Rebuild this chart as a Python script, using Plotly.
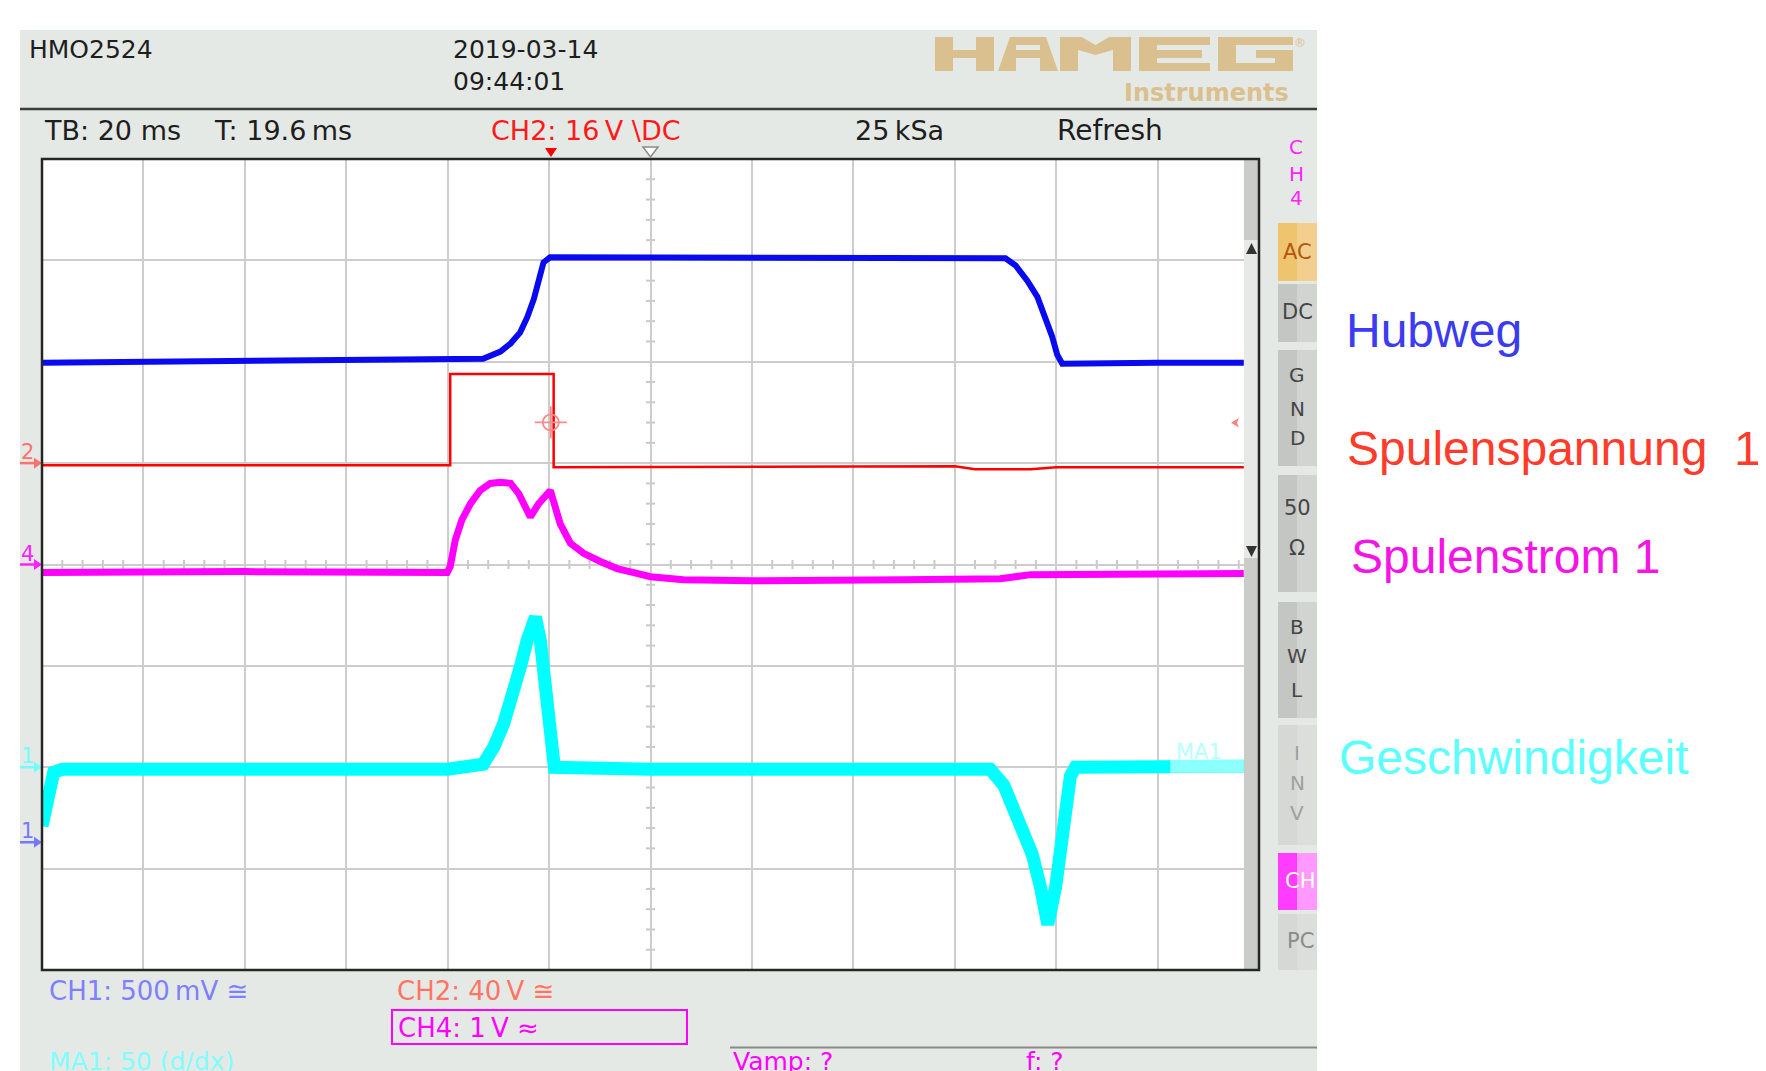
import plotly.graph_objects as go
import numpy as np

# ---------------- data (time in ms, amplitude in screen divisions) ----------------
hub_t = [-120, -60, -33.0, -29.6, -27.6, -25.7, -24.3, -23.0, -22.0, -21.1, -19.8, 0, 40,
         70.0, 72.0, 74.3, 76.3, 77.9, 79.2, 80.2, 81.2, 100, 117]
hub_v = [1.99, 2.01, 2.03, 2.10, 2.18, 2.29, 2.44, 2.62, 2.80, 2.98, 3.03, 3.03, 3.03,
         3.02, 2.95, 2.80, 2.64, 2.43, 2.25, 2.07, 1.98, 1.99, 1.99]

volt_t = [-120, -39.5, -39.5, -19.1, -19.1, 60, 64, 75, 80, 117]
volt_v = [0.98, 0.98, 1.88, 1.88, 0.96, 0.97, 0.94, 0.94, 0.96, 0.96]

mag_t = [-120, -80, -40.1, -39.5, -38.5, -37.2, -35.5, -33.6, -31.6, -29.6, -27.6, -26.0,
         -23.7, -22.05, -19.75, -19.1, -17.8, -15.8, -13.2, -9.9, -6.6, -3.3, 0, 6.5, 20,
         50, 69, 75, 117]
mag_v = [-0.08, -0.07, -0.08, -0.02, 0.24, 0.44, 0.60, 0.73, 0.80, 0.81, 0.80, 0.70,
         0.47, 0.60, 0.73, 0.63, 0.40, 0.21, 0.11, 0.03, -0.04, -0.08, -0.12, -0.15, -0.16,
         -0.15, -0.14, -0.10, -0.09]

speed_t = [-120, -117.7, -116, -40, -33.0, -30.9, -28.95, -26.98, -25.66, -24.34, -22.7,
           -21.72, -20.73, -19.75, -18.96, 0, 60, 67.0, 69.7, 71.6, 73.6, 75.3, 76.9,
           78.35, 79.9, 80.9, 81.8, 82.8, 83.8, 100, 117]
speed_v = [-2.58, -2.05, -2.02, -2.02, -1.97, -1.80, -1.57, -1.27, -1.01, -0.75, -0.52,
           -0.75, -1.24, -1.63, -2.0, -2.02, -2.02, -2.02, -2.18, -2.40, -2.59, -2.86, -3.18,
           -3.55, -3.18, -2.77, -2.31, -2.09, -2.0, -1.99, -1.99]
ma1_label_from = 102.5  # ms, where the MA1 label overlays the trace

# channel reference markers (divisions) and labels
ch_markers = [("2", 1.0, "#ff7070"), ("4", 0.0, "#ff20ff"), ("1", -2.0, "#70ffff"), ("1", -2.74, "#7878ff")]
trace_labels = [("Hubweg", "#3b3bf2"), ("Spulenspannung \u00a01", "#ff3b2b"),
                ("Spulenstrom 1", "#f514e6"), ("Geschwindigkeit", "#5cffff")]

# ---------------- geometry helpers (page pixel coords; page body has an 8px margin) ----------------
OFF = 8
W, H = 1766 - OFF, 1071 - OFF
PL, PR, PT, PB = 42, 1259, 159, 970     # grid area in page px
def px(x): return (x - OFF) / W
def py(y): return 1 - (y - OFF) / H
def div2py(v): return (PT + PB) / 2 - v * (PB - PT) / 8

FONT = "DejaVu Sans"
BG = "#e5e9e5"

fig = go.Figure()

fig.add_trace(go.Scatter(x=hub_t, y=hub_v, mode="lines", line=dict(color="#0a0af0", width=6), hoverinfo="skip"))
fig.add_trace(go.Scatter(x=volt_t, y=volt_v, mode="lines", line=dict(color="#ff0000", width=2.5), hoverinfo="skip"))
fig.add_trace(go.Scatter(x=mag_t, y=mag_v, mode="lines", line=dict(color="#ff00ff", width=7), hoverinfo="skip"))
st = np.array(speed_t); sv = np.array(speed_v)
main = st <= ma1_label_from
fig.add_trace(go.Scatter(x=st, y=sv, mode="lines", line=dict(color="#00ffff", width=13), hoverinfo="skip"))
tail_y = np.interp(ma1_label_from, st, sv)
fig.add_trace(go.Scatter(x=np.r_[ma1_label_from, st[~main]], y=np.r_[tail_y, sv[~main]], mode="lines",
                         line=dict(color="#8cffff", width=13), hoverinfo="skip"))

shapes = []
def rect(x0, y0, x1, y1, fill=None, line=None, lw=0, layer="below"):
    shapes.append(dict(type="rect", xref="paper", yref="paper", x0=px(x0), x1=px(x1), y0=py(y1), y1=py(y0),
                       fillcolor=fill if fill else "rgba(0,0,0,0)",
                       line=dict(color=line if line else "rgba(0,0,0,0)", width=lw), layer=layer))
def line(x0, y0, x1, y1, color, lw, layer="below"):
    shapes.append(dict(type="line", xref="paper", yref="paper", x0=px(x0), x1=px(x1), y0=py(y0), y1=py(y1),
                       line=dict(color=color, width=lw), layer=layer))
def poly(pts, fill, layer="below", lc=None, lw=0):
    d = "M " + " L ".join(f"{px(a):.5f},{py(b):.5f}" for a, b in pts) + " Z"
    shapes.append(dict(type="path", xref="paper", yref="paper", path=d, fillcolor=fill,
                       line=dict(color=lc if lc else "rgba(0,0,0,0)", width=lw), layer=layer))

# scope screen background, grid area
rect(20, 30, 1317, 1075, fill=BG)
rect(PL, PT, PR, PB, fill="white")
line(20, 109, 1317, 109, "#3c3c3c", 2.5)
line(730, 1047.5, 1317, 1047.5, "#8a8a8a", 2)
rect(392, 1010, 687, 1044, line="#ff00ff", lw=2)

# HAMEG logo (block letters)
TAN = "#dbc08f"
T0, T1 = 37, 71
rect(935, T0, 953, T1, fill=TAN); rect(976, T0, 994, T1, fill=TAN); rect(953, 50, 976, 58, fill=TAN)
poly([(998, T1), (1010, T0), (1046, T0), (1058, T1)], TAN)
rect(1016, 45, 1040, 50, fill=BG); rect(1016, 58, 1040, T1, fill=BG)
rect(1060, T0, 1131, T1, fill=TAN)
poly([(1080, T0 - 1), (1095.5, 45), (1111, T0 - 1)], BG)
rect(1078, 50, 1113, T1 + 1, fill=BG)
poly([(1078, 50), (1095.5, 55), (1113, 50), (1113, 49), (1078, 49)], TAN)
rect(1139, T0, 1157, T1, fill=TAN); rect(1157, T0, 1210, 45, fill=TAN)
rect(1157, 50, 1202, 58, fill=TAN); rect(1157, 63, 1210, T1, fill=TAN)
rect(1218, T0, 1293, 45, fill=TAN); rect(1218, 45, 1236, T1, fill=TAN)
rect(1236, 63, 1293, T1, fill=TAN); rect(1275, 50, 1293, 63, fill=TAN); rect(1256, 50, 1275, 58, fill=TAN)

# right-hand button column
buttons = [(223, 281, "#eec46e", "#f3cf8f"), (284, 342, "#c3c6c3", "#d1d4d1"), (350, 466, "#c3c6c3", "#d1d4d1"),
           (475, 592, "#c3c6c3", "#d1d4d1"), (602, 718, "#c3c6c3", "#d1d4d1"), (725, 845, "#d6d8d6", "#dcdedc"),
           (853, 910, "#ff3cff", "#ff98ff"), (914, 970, "#d6d8d6", "#dcdedc")]
for y0, y1, cl, cr in buttons:
    rect(1278, y0, 1297, y1, fill=cl)
    rect(1297, y0, 1317, y1, fill=cr)

# centre-line minor ticks (in data coordinates)
for t in np.arange(-120, 120.01, 4):
    if abs(t % 20) > 1e-9:
        shapes.append(dict(type="line", xref="x", yref="y", x0=t, x1=t, y0=-0.045, y1=0.045,
                           line=dict(color="#c9c9c9", width=2), layer="below"))
for v in np.arange(-4, 4.01, 0.2):
    if abs(v - round(v)) > 1e-9:
        shapes.append(dict(type="line", xref="x", yref="y", x0=-0.9, x1=0.9, y0=v, y1=v,
                           line=dict(color="#c9c9c9", width=2), layer="below"))

# scrollbar strip on the right of the grid + frame
rect(1244, PT, PR, PB, fill="#e6e9e6", layer="above")
rect(1244, PT, PR, 240, fill="#c9ccc9", layer="above")
rect(1244, 558, PR, PB, fill="#c9ccc9", layer="above")
poly([(1246, 254), (1251.5, 243), (1257, 254)], "#333333", layer="above")
poly([(1246, 546), (1251.5, 557), (1257, 546)], "#333333", layer="above")
rect(PL, PT, PR, PB, line="#262626", lw=2.5, layer="above")

# top markers: trigger position and centre
poly([(545, 148), (557, 148), (551, 157)], "#ff0000", layer="above")
poly([(643, 147), (658, 147), (650.5, 157)], "#ffffff", layer="above", lc="#8a8a8a", lw=1.5)

# cursor crosshair and trigger level marker
CX, CY = 550.8, 422.4
shapes.append(dict(type="circle", xref="paper", yref="paper", x0=px(CX - 8), x1=px(CX + 8), y0=py(CY + 8), y1=py(CY - 8),
                   line=dict(color="#ff8a8a", width=1.8), layer="above"))
line(CX - 16, CY, CX + 16, CY, "#ff8a8a", 1.8, layer="above")
line(CX, CY - 16, CX, CY + 16, "#ff8a8a", 1.8, layer="above")
poly([(1231, 422.7), (1239, 418), (1237, 422.7), (1239, 427.4)], "#ff8080", layer="above")

# channel reference arrows on the left
for name, v, col in ch_markers:
    yy = div2py(v)
    line(20, yy, 36, yy, col, 2.5)
    poly([(34, yy - 5.5), (42, yy), (34, yy + 5.5)], col)

annotations = []
def txt(x, y, s, color="#1e1e1e", size=25, anchor="left", family=FONT, bold=False):
    annotations.append(dict(xref="paper", yref="paper", x=px(x), y=py(y), text=f"<b>{s}</b>" if bold else s,
                            showarrow=False, xanchor=anchor, yanchor="middle",
                            font=dict(family=family, size=size, color=color)))

txt(27, 50, "HMO2524")
txt(451, 50, "2019-03-14")
txt(451, 81, "09:44:01")
txt(1291, 93, "Instruments", color=TAN, size=24, anchor="right", bold=True)
txt(1300, 43, "®", color=TAN, size=12, anchor="center")
txt(42, 131, "TB: 20 ms", size=27)
txt(212, 131, "T: 19.6\u2009ms", size=27)
txt(489, 131, "CH2: 16\u2009V \\DC", color="#ff1a1a", size=27)
txt(853, 131, "25\u2009kSa", size=27)
txt(1055, 131, "Refresh", size=28)

for ch, yy in zip(["C", "H", "4"], [147, 174, 198]):
    txt(1296, yy, ch, color="#ff22ff", size=20, anchor="center")
txt(1297, 252, "AC", color="#b4560e", size=21, anchor="center")
txt(1297, 312, "DC", color="#454545", size=21, anchor="center")
for ch, yy in zip(["G", "N", "D"], [375, 409, 438]):
    txt(1297, yy, ch, color="#454545", size=20, anchor="center")
txt(1297, 508, "50", color="#454545", size=21, anchor="center")
txt(1297, 548, "\u03a9", color="#454545", size=21, anchor="center")
for ch, yy in zip(["B", "W", "L"], [627, 656, 690]):
    txt(1297, yy, ch, color="#454545", size=20, anchor="center")
for ch, yy in zip(["I", "N", "V"], [753, 783, 813]):
    txt(1297, yy, ch, color="#a0a0a0", size=20, anchor="center")
txt(1300, 881, "CH", color="#ffffff", size=21, anchor="center")
txt(1300, 941, "PC", color="#8a8a8a", size=21, anchor="center")

for name, v, col in ch_markers:
    txt(27, div2py(v) - 11, name, color=col, size=21, anchor="center")

txt(1174, 752, "MA1", color="#b8ffff", size=21)

txt(47, 991, "CH1: 500\u2009mV \u2245", color="#7f7fff", size=26)
txt(395, 991, "CH2: 40\u2009V \u2245", color="#ff7565", size=26)
txt(396, 1028, "CH4: 1\u2009V \u2248", color="#ff00ff", size=26)
txt(47, 1061, "MA1: 50 (d/dx)", color="#80ffff", size=25)
txt(731, 1061, "Vamp: ?", color="#ff00ff", size=25)
txt(1024, 1061, "f: ?", color="#ff00ff", size=25)

label_pos = [(1344, 330), (1345, 449), (1349, 556), (1337, 757)]
for (s, col), (x, y) in zip(trace_labels, label_pos):
    txt(x, y, s, color=col, size=48, family="Liberation Sans, Arial")

fig.update_layout(
    width=W, height=H, autosize=False,
    margin=dict(l=0, r=0, t=0, b=0),
    paper_bgcolor="white", plot_bgcolor="white",
    showlegend=False,
    shapes=shapes, annotations=annotations,
    xaxis=dict(domain=[px(PL), px(PR)], range=[-120, 120], tick0=0, dtick=20, showgrid=True,
               gridcolor="#cdcdcd", gridwidth=2, zeroline=False, showticklabels=False, ticks="",
               showline=False, fixedrange=True),
    yaxis=dict(domain=[py(PB), py(PT)], range=[-4, 4], tick0=0, dtick=1, showgrid=True,
               gridcolor="#cdcdcd", gridwidth=2, zeroline=False, showticklabels=False, ticks="",
               showline=False, fixedrange=True),
)

fig.write_html("out.html", config={"displayModeBar": False})
